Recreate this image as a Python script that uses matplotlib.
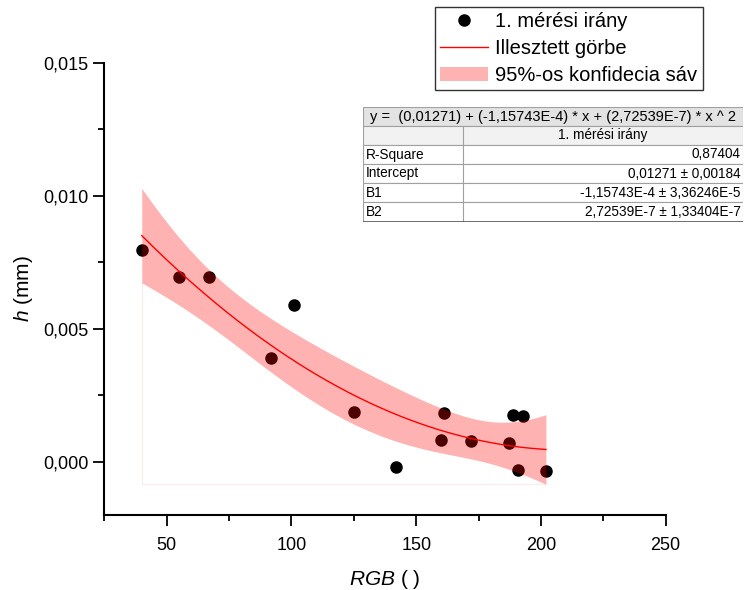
import numpy as np
import matplotlib
matplotlib.use("Agg")
import matplotlib.pyplot as plt
from matplotlib.ticker import FuncFormatter, MultipleLocator
from matplotlib.patches import Rectangle, Patch
from matplotlib.lines import Line2D

plt.rcParams['font.family'] = ['Liberation Sans', 'DejaVu Sans']
plt.rcParams['mathtext.fontset'] = 'custom'
plt.rcParams['mathtext.it'] = 'Liberation Sans:italic'
plt.rcParams['mathtext.rm'] = 'Liberation Sans'

rgb = [40, 55, 67, 92, 101, 125, 142, 160, 161, 172, 187, 189, 191, 193, 202]
h_mm = [0.00796, 0.00693, 0.00693, 0.00389, 0.0059, 0.00186, -0.00021, 0.00082,
        0.00184, 0.00078, 0.00071, 0.00176, -0.00031, 0.00172, -0.00034]

legend_labels = ["1. mérési irány", "Illesztett görbe", "95%-os konfidecia sáv"]
table_title = "y =  (0,01271) + (-1,15743E-4) * x + (2,72539E-7) * x ^ 2"
table_header = "1. mérési irány"
table_rows = ["R-Square", "Intercept", "B1", "B2"]
table_values = ["0,87404", "0,01271 ± 0,00184", "-1,15743E-4 ± 3,36246E-5",
                "2,72539E-7 ± 1,33404E-7"]

# quadratic fit with 95% confidence band
x = np.array(rgb, dtype=float)
y = np.array(h_mm)
X = np.vander(x, 3, increasing=True)
beta, *_ = np.linalg.lstsq(X, y, rcond=None)
resid = y - X @ beta
s2 = resid @ resid / (len(x) - 3)
cov = s2 * np.linalg.inv(X.T @ X)
t_val = 2.179  # t(0.975, df=12)

xf = np.linspace(x.min(), x.max(), 200)
Xf = np.vander(xf, 3, increasing=True)
yf = Xf @ beta
se = np.sqrt(np.einsum('ij,jk,ik->i', Xf, cov, Xf))
lower = yf - t_val * se
upper = yf + t_val * se

fig = plt.figure(figsize=(7.51, 5.9), dpi=100)
ax = fig.add_axes([0.1389, 0.1271, 0.7475, 0.7666])

ax.plot([xf[0], xf[0], xf[-1]], [lower[0], lower[-1], lower[-1]],
        color='#fcebeb', lw=0.8, zorder=1)
ax.plot(x, y, 'o', color='black', markersize=8, zorder=2)
ax.fill_between(xf, lower, upper, color='red', alpha=0.3, lw=0, zorder=3)
ax.plot(xf, yf, color='red', lw=1, zorder=4)

ax.set_xlim(25, 250)
ax.set_ylim(-0.002, 0.015)
ax.xaxis.set_major_locator(MultipleLocator(50))
ax.xaxis.set_minor_locator(MultipleLocator(25))
ax.yaxis.set_major_locator(MultipleLocator(0.005))
ax.yaxis.set_minor_locator(MultipleLocator(0.0025))
ax.yaxis.set_major_formatter(FuncFormatter(lambda v, p: f"{v:.3f}".replace('.', ',').replace('-0,000', '0,000')))
ax.xaxis.set_major_formatter(FuncFormatter(lambda v, p: f"{v:.0f}"))

for s in ['top', 'right']:
    ax.spines[s].set_visible(False)
for s in ['left', 'bottom']:
    ax.spines[s].set_linewidth(1.5)
ax.tick_params(which='major', direction='out', length=8, width=1.3, labelsize=13)
ax.tick_params(which='minor', direction='out', length=4.5, width=1.3)
ax.tick_params(axis='x', which='major', pad=8)

ax.set_xlabel(r'$RGB$ ( )', fontsize=15, labelpad=10)
ax.set_ylabel(r'$h$ (mm)', fontsize=15, labelpad=6)

handles = [
    Line2D([], [], marker='o', color='black', ls='none', markersize=8),
    Line2D([], [], color='red', lw=1),
    Patch(facecolor='red', alpha=0.3, edgecolor='none'),
]
fig.legend(handles, legend_labels, loc='upper left',
           bbox_to_anchor=(435 / 751, 1 - 7 / 590), fontsize=14.5,
           frameon=True, fancybox=False, edgecolor='#333333', framealpha=1,
           borderpad=0.25, labelspacing=0.4, handlelength=2.4, handletextpad=0.35,
           borderaxespad=0)

# fit results table
tab = fig.add_axes([363 / 751, 1 - 222 / 590, 380 / 751, 115 / 590])
tab.set_xlim(0, 380)
tab.set_ylim(115, 0)
tab.axis('off')
split = 100
row_h = [19, 19, 19, 19, 19, 20]
tops = np.concatenate([[0], np.cumsum(row_h)])
grid = '#a0a0a0'
tab.add_patch(Rectangle((0, tops[0]), 380, row_h[0], facecolor='#e3e3e3', edgecolor=grid, lw=0.8))
tab.add_patch(Rectangle((0, tops[1]), 380, row_h[1], facecolor='#f2f2f2', edgecolor=grid, lw=0.8))
tab.text(190, tops[0] + row_h[0] / 2, table_title, ha='center', va='center', fontsize=10.5)
tab.text(split + (380 - split) / 2, tops[1] + row_h[1] / 2, table_header,
         ha='center', va='center', fontsize=9.8)
for i, (name, val) in enumerate(zip(table_rows, table_values)):
    top = tops[i + 2]
    hgt = row_h[i + 2]
    tab.add_patch(Rectangle((0, top), 380, hgt, facecolor='white', edgecolor=grid, lw=0.8))
    tab.text(3, top + hgt / 2, name, ha='left', va='center', fontsize=9.8)
    tab.text(378, top + hgt / 2, val, ha='right', va='center', fontsize=9.8)
tab.plot([split, split], [tops[1], tops[-1]], color=grid, lw=0.8)
tab.plot([0, 380], [tops[-1], tops[-1]], color='#555555', lw=1.2)

fig.savefig('out.png', dpi=100)
